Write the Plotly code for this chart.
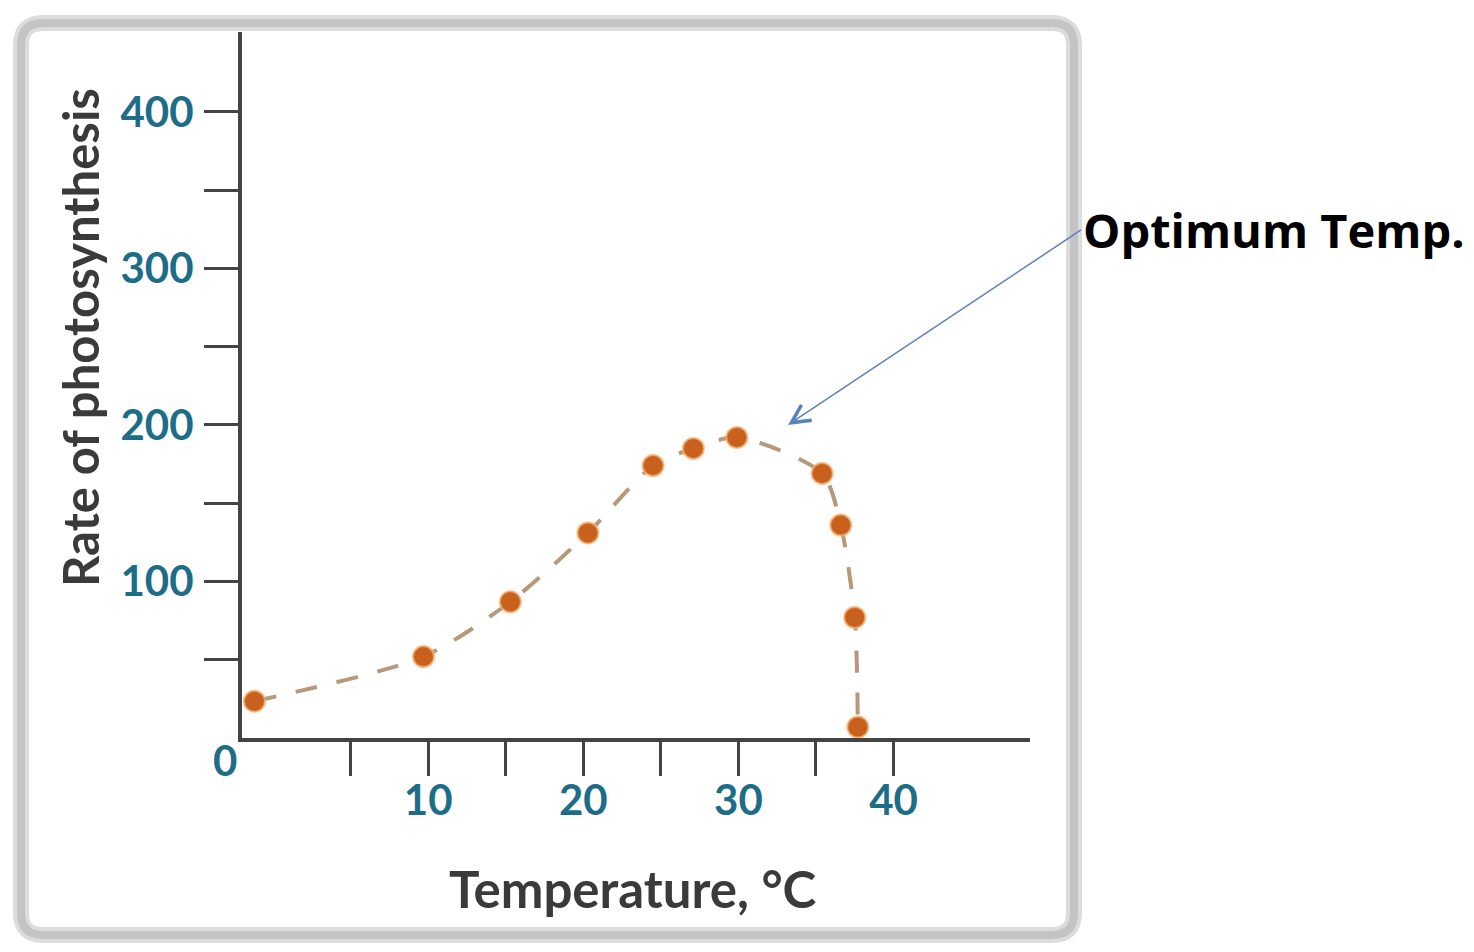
import plotly.graph_objects as go

# Data
temperature = [-1.2, 9.7, 15.3, 20.3, 24.5, 27.1, 29.9, 35.4, 36.6, 37.5, 37.7]
rate = [23.5, 52, 87, 131, 174, 185, 192, 169, 136, 77, 7]

x_tick_vals = [5, 10, 15, 20, 25, 30, 35, 40]
x_tick_text = ["", "10", "", "20", "", "30", "", "40"]
y_tick_vals = [50, 100, 150, 200, 250, 300, 350, 400]
y_tick_text = ["", "100", "", "200", "", "300", "", "400"]

W, H = 1474, 952
OFF = 8  # page body margin
L, R, T, B = 242, 1030, 32, 738  # plot area pixel edges in the picture
pw, ph = R - L, B - T


def px(x):
    return (x - L) / pw


def py(y):
    return (B - y) / ph


tick_font = dict(family="Lato", size=42, color="#1d6c88", weight="bold")
title_font_y = dict(family="Lato", size=49, color="#3a3a3a", weight="bold")
title_font_x = dict(family="Lato", size=51, color="#3a3a3a", weight="bold")

fig = go.Figure()
fig.add_trace(go.Scatter(
    x=temperature, y=rate, mode="lines+markers",
    line=dict(color="#b8987a", width=4, dash="22px,20px", shape="spline", smoothing=0.75),
    marker=dict(size=21, color="#c8601e", line=dict(color="rgba(245,175,110,0.8)", width=2)),
    showlegend=False, cliponaxis=False,
))

fig.update_xaxes(
    range=[-2.0, 48.8], showgrid=False, zeroline=False,
    showline=True, linecolor="#444444", linewidth=4,
    ticks="outside", ticklen=34, tickwidth=3, tickcolor="#444444",
    tickvals=x_tick_vals, ticktext=x_tick_text, tickfont=tick_font,
    ticklabelstandoff=-11,
)
fig.update_yaxes(
    range=[0, 451], showgrid=False, zeroline=False,
    showline=True, linecolor="#444444", linewidth=4,
    ticks="outside", ticklen=34, tickwidth=3, tickcolor="#444444",
    tickvals=y_tick_vals, ticktext=y_tick_text, tickfont=tick_font,
    ticklabelstandoff=2,
)

# Rounded gray frame
x0, x1 = px(21), px(1074)
y0, y1 = py(935), py(23)
rx, ry = 22 / pw, 22 / ph
path = (f"M {x0+rx},{y1} L {x1-rx},{y1} Q {x1},{y1} {x1},{y1-ry} "
        f"L {x1},{y0+ry} Q {x1},{y0} {x1-rx},{y0} L {x0+rx},{y0} "
        f"Q {x0},{y0} {x0},{y0+ry} L {x0},{y1-ry} Q {x0},{y1} {x0+rx},{y1} Z")
fig.add_shape(type="path", path=path, xref="paper", yref="paper",
              line=dict(color="#dcdcdc", width=16), layer="below")
fig.add_shape(type="path", path=path, xref="paper", yref="paper",
              line=dict(color="#c4c4c4", width=8), layer="below")

fig.add_annotation(text="Rate of photosynthesis", xref="paper", yref="paper",
                   x=px(80), y=py(338), textangle=-90, showarrow=False,
                   font=title_font_y, xanchor="center", yanchor="middle")
fig.add_annotation(text="Temperature, °C", xref="paper", yref="paper",
                   x=px(633), y=py(888), showarrow=False,
                   font=title_font_x, xanchor="center", yanchor="middle")
fig.add_annotation(text="0", xref="paper", yref="paper",
                   x=px(225), y=py(760), showarrow=False,
                   font=tick_font, xanchor="center", yanchor="middle")

# Optimum temperature callout
fig.add_annotation(text="<b>Optimum Temp.</b>", x=33.2, y=200, xref="x", yref="y",
                   ax=1080 - 787, ay=230 - 425, axref="pixel", ayref="pixel",
                   xanchor="left", yanchor="middle",
                   font=dict(family="Open Sans", size=47, color="#000000"),
                   showarrow=True, arrowhead=5, arrowsize=2.4, arrowwidth=1.5,
                   arrowcolor="#5a82b8", standoff=0)

fig.update_layout(
    width=W, height=H,
    margin=dict(l=L - OFF, r=W - R + OFF, t=T - OFF, b=H - B + OFF),
    paper_bgcolor="white", plot_bgcolor="white",
)

fig.write_html("out.html")
